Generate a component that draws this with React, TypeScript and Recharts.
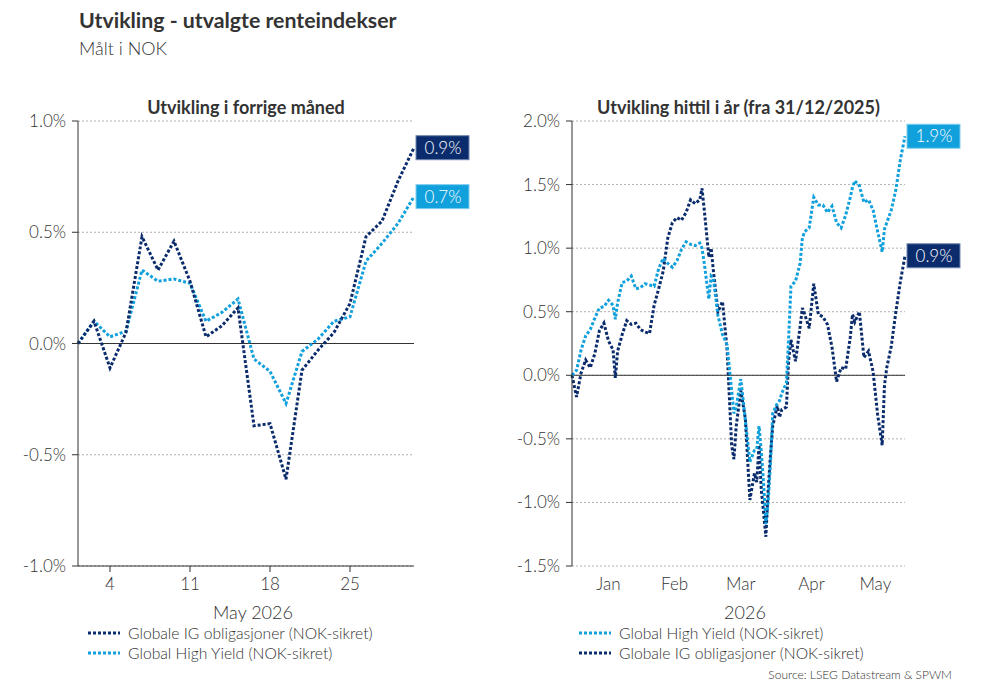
import React from 'react';
import { LineChart, Line, XAxis, YAxis, CartesianGrid, ReferenceLine } from 'recharts';

const DARK = '#0b2c6c';
const LIGHT = '#10a0dc';
const TEXT = '#333333';
const FONT = 'Lato, "Open Sans", sans-serif';

// Utvikling i forrige måned (handelsdager 30.04 - 29.05)
const mayDays = ['30', '1', '4', '5', '6', '7', '8', '11', '12', '13', '14', '15', '18', '19', '20', '21', '22', '25', '26', '27', '28', '29'];
const mayIG = [0, 0.1, -0.11, 0.05, 0.48, 0.33, 0.46, 0.28, 0.03, 0.08, 0.16, -0.37, -0.36, -0.61, -0.12, -0.03, 0.05, 0.18, 0.48, 0.55, 0.73, 0.88];
const mayHY = [0, 0.1, 0.03, 0.055, 0.33, 0.28, 0.29, 0.27, 0.1, 0.14, 0.2, -0.07, -0.125, -0.27, -0.036, 0.02, 0.1, 0.12, 0.37, 0.45, 0.54, 0.66];
const mayTicks = [2, 7, 12, 17];

// Utvikling hittil i år, dager etter 31/12/2025
const ytdDay = [0, 2, 4, 6, 8, 10, 12, 14, 16, 18, 19, 20, 22, 24, 26, 28, 30, 32, 34, 36, 38, 40, 42, 44, 46, 48, 50, 52, 54, 56, 57, 58, 60, 61, 62, 64, 66, 68, 70, 71, 72, 74, 76, 78, 80, 81, 82, 83, 84, 85, 86, 87, 88, 90, 91, 92, 94, 95, 96, 98, 100, 101, 102, 104, 106, 108, 110, 112, 114, 116, 118, 120, 122, 123, 124, 126, 128, 130, 132, 134, 136, 137, 138, 140, 142, 144, 146];
const ytdIG = [0, -0.17, 0.02, 0.12, 0.06, 0.17, 0.35, 0.41, 0.27, 0.2, -0.02, 0.19, 0.32, 0.43, 0.4, 0.41, 0.36, 0.34, 0.33, 0.55, 0.68, 0.82, 1.08, 1.2, 1.24, 1.22, 1.28, 1.38, 1.35, 1.38, 1.47, 1.3, 0.93, 1.0, 0.82, 0.5, 0.58, 0.2, -0.55, -0.66, -0.4, -0.12, -0.34, -0.98, -0.77, -0.84, -0.55, -0.9, -1.08, -1.27, -0.9, -0.63, -0.4, -0.24, -0.33, -0.27, -0.25, 0.12, 0.28, 0.11, 0.38, 0.53, 0.48, 0.37, 0.72, 0.48, 0.46, 0.4, 0.22, -0.05, 0.06, 0.05, 0.3, 0.48, 0.42, 0.5, 0.14, 0.19, 0.03, -0.31, -0.55, -0.08, 0.06, 0.23, 0.5, 0.74, 0.94];
const ytdHY = [0, 0.04, 0.2, 0.31, 0.36, 0.45, 0.53, 0.54, 0.59, 0.55, 0.44, 0.57, 0.73, 0.74, 0.78, 0.68, 0.69, 0.72, 0.71, 0.7, 0.84, 0.92, 0.88, 0.85, 0.9, 0.99, 1.05, 1.03, 1.02, 1.04, 1.0, 0.88, 0.6, 0.78, 0.76, 0.47, 0.32, 0.24, -0.12, -0.3, -0.25, -0.03, -0.35, -0.68, -0.59, -0.58, -0.4, -0.6, -0.85, -1.17, -1.0, -0.7, -0.3, -0.22, -0.2, -0.14, -0.06, 0.3, 0.7, 0.74, 0.88, 1.08, 1.13, 1.16, 1.4, 1.34, 1.34, 1.28, 1.33, 1.2, 1.16, 1.26, 1.4, 1.48, 1.53, 1.49, 1.36, 1.38, 1.3, 1.13, 0.97, 1.15, 1.2, 1.3, 1.46, 1.7, 1.88];
const monthStarts = [1, 32, 60, 91, 121];
const monthMids = [16, 45, 74, 105, 133];
const monthNames = ['Jan', 'Feb', 'Mar', 'Apr', 'May'];

const mayData = mayDays.map((d, i) => ({ i, ig: mayIG[i], hy: mayHY[i] }));
const ytdData = ytdDay.map((d, i) => ({ d, ig: ytdIG[i], hy: ytdHY[i] }));

const tickStyle = { fontSize: 17, fill: TEXT, fontFamily: FONT, fontWeight: 300 };
const pct = (v: number) => `${v.toFixed(1)}%`;

const endLabel = (count: number, fill: string, border: string) => (props: any) => {
  const { x, y, index, value } = props;
  if (index !== count - 1 || x == null) return null;
  return (
    <g>
      <rect x={x + 2} y={y - 12} width={53} height={24} fill={fill} stroke={border} strokeWidth={1} />
      <text x={x + 29} y={y} dy={6} textAnchor="middle" fill="#fff" fontSize={17} fontFamily={FONT} fontWeight={300}>
        {pct(value)}
      </text>
    </g>
  );
};

const dotted = { strokeDasharray: '3 2', strokeWidth: 3, dot: false, isAnimationActive: false } as const;

const LegendRow = ({ color, text }: { color: string; text: string }) => (
  <div style={{ display: 'flex', alignItems: 'center', height: 20 }}>
    <svg width={40} height={6}>
      <line x1={0} y1={3} x2={32} y2={3} stroke={color} strokeWidth={3} strokeDasharray="3 2" />
    </svg>
    <span style={{ fontSize: 15.7, color: TEXT, fontWeight: 300 }}>{text}</span>
  </div>
);

const abs = (left: number, top: number, extra: React.CSSProperties = {}): React.CSSProperties => ({
  position: 'absolute', left, top, ...extra,
});

export default function App() {
  return (
    <div style={{ position: 'absolute', left: 0, top: 0, width: 984, height: 684, background: '#fff', fontFamily: FONT, color: TEXT }}>
      <div style={abs(79, 6, { fontSize: 21.3, fontWeight: 700, lineHeight: '28px' })}>Utvikling - utvalgte renteindekser</div>
      <div style={abs(79, 37, { fontSize: 18, fontWeight: 300, lineHeight: '22px' })}>Målt i NOK</div>

      <div style={abs(78, 96, { width: 336, textAlign: 'center', fontSize: 18, fontWeight: 700, lineHeight: '22px' })}>Utvikling i forrige måned</div>
      <div style={abs(572, 96, { width: 333, textAlign: 'center', fontSize: 18, fontWeight: 700, lineHeight: '22px' })}>Utvikling hittil i år (fra 31/12/2025)</div>

      <div style={abs(0, 0)}>
        <LineChart width={480} height={684} data={mayData} margin={{ top: 121, right: 66, bottom: 88, left: 18 }}>
          <CartesianGrid vertical={false} stroke="#b0b0b0" strokeDasharray="2 2" />
          <XAxis
            dataKey="i" type="number" domain={[0, mayDays.length - 1]} ticks={mayTicks}
            tickFormatter={(i: number) => mayDays[i]} tick={tickStyle} tickSize={6} tickMargin={6}
            stroke={TEXT} height={30} interval={0}
          />
          <YAxis
            domain={[-1, 1]} ticks={[-1, -0.5, 0, 0.5, 1]} tickFormatter={pct} tick={tickStyle}
            tickSize={6} tickMargin={6} stroke={TEXT} width={60} interval={0}
          />
          <ReferenceLine y={0} stroke={TEXT} strokeWidth={1} />
          <Line dataKey="hy" stroke={LIGHT} {...dotted} label={endLabel(mayData.length, LIGHT, '#7fcdf0')} />
          <Line dataKey="ig" stroke={DARK} {...dotted} label={endLabel(mayData.length, DARK, '#6f86b0')} />
        </LineChart>
      </div>

      <div style={abs(480, 0)}>
        <LineChart width={504} height={684} data={ytdData} margin={{ top: 121, right: 79, bottom: 88, left: 32 }}>
          <CartesianGrid vertical={false} stroke="#b0b0b0" strokeDasharray="2 2" />
          <XAxis
            dataKey="d" type="number" domain={[0, 146]} ticks={monthStarts} tick={false}
            tickSize={6} stroke={TEXT} height={0} interval={0}
          />
          <XAxis
            xAxisId="lbl" dataKey="d" type="number" domain={[0, 146]} ticks={monthMids}
            tickFormatter={(v: number) => monthNames[monthMids.indexOf(v)]} tick={tickStyle}
            tickLine={false} axisLine={false} tickSize={6} tickMargin={6} height={30} interval={0}
          />
          <YAxis
            domain={[-1.5, 2]} ticks={[-1.5, -1, -0.5, 0, 0.5, 1, 1.5, 2]} tickFormatter={pct} tick={tickStyle}
            tickSize={6} tickMargin={6} stroke={TEXT} width={60} interval={0}
          />
          <ReferenceLine y={0} stroke={TEXT} strokeWidth={1} />
          <Line dataKey="ig" stroke={DARK} {...dotted} label={endLabel(ytdData.length, DARK, '#6f86b0')} />
          <Line dataKey="hy" stroke={LIGHT} {...dotted} label={endLabel(ytdData.length, LIGHT, '#7fcdf0')} />
        </LineChart>
      </div>

      <div style={abs(78, 601, { width: 350, textAlign: 'center', fontSize: 18, fontWeight: 300 })}>May 2026</div>
      <div style={abs(572, 601, { width: 346, textAlign: 'center', fontSize: 18, fontWeight: 300 })}>2026</div>

      <div style={abs(88, 623)}>
        <LegendRow color={DARK} text="Globale IG obligasjoner (NOK-sikret)" />
        <LegendRow color={LIGHT} text="Global High Yield (NOK-sikret)" />
      </div>
      <div style={abs(579, 623)}>
        <LegendRow color={LIGHT} text="Global High Yield (NOK-sikret)" />
        <LegendRow color={DARK} text="Globale IG obligasjoner (NOK-sikret)" />
      </div>
      <div style={abs(700, 667, { width: 252, textAlign: 'right', fontSize: 12, fontWeight: 300 })}>Source: LSEG Datastream &amp; SPWM</div>
    </div>
  );
}
